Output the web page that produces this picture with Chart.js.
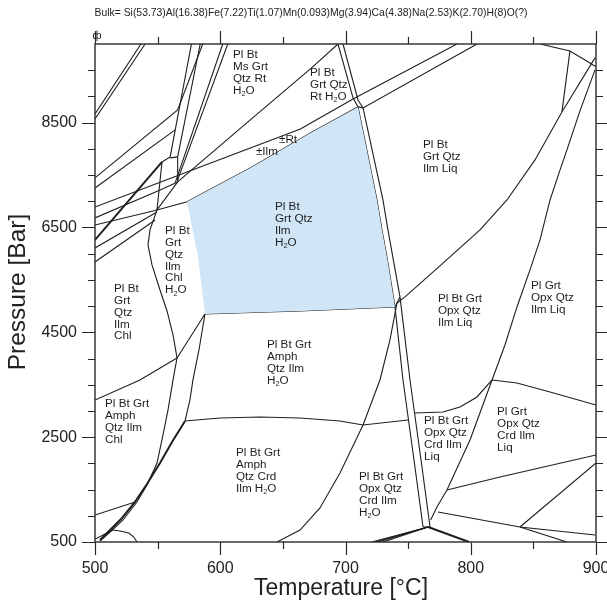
<!DOCTYPE html>
<html>
<head>
<meta charset="utf-8">
<script src="https://cdn.jsdelivr.net/npm/chart.js@4/dist/chart.umd.min.js"></script>
<style>
  html, body { margin: 0; padding: 0; background: #ffffff; }
  canvas { display: block; }
</style>
</head>
<body>
<canvas id="pseudosection" width="607" height="606"></canvas>
<script>
// Axis ticks
const xTickValues = [500, 600, 700, 800, 900];
const yTickValues = [500, 2500, 4500, 6500, 8500];
const xMinorTicks = [500, 550, 600, 650, 700, 750, 800, 850, 900];
const yMinorTicks = [500, 1000, 1500, 2000, 2500, 3000, 3500, 4000, 4500, 5000, 5500, 6000, 6500, 7000, 7500, 8000, 8500, 9000, 9500];

const bulkComposition = 'Bulk= Si(53.73)Al(16.38)Fe(7.22)Ti(1.07)Mn(0.093)Mg(3.94)Ca(4.38)Na(2.53)K(2.70)H(8)O(?)';

// Shaded field: Pl Bt Grt Qtz Ilm H2O  ([T °C, P bar])
const fieldPlBtGrtQtzIlmH2O = [[573.5,6990],[578,6453],[582,5976],[585,5400],[587.8,4850],[663.7,4907],[739.5,4984],[733.5,5880],[729.1,6453],[725.1,7025],[717,7979],[710,8800],[672,8304],[624,7636],[573.5,6990]];

// Phase boundaries ([T °C, P bar])
const rtOut        = [[566,7369],[624,8552],[672,9525],[694,10000]];
const ilmRtUpper   = [[500,6890],[584,7655],[664,8380],[706,8950],[789,10000]];
const ilmRtLower   = [[549.5,6835],[573.5,6990],[624,7636],[672,8304],[710,8800],[714,8781],[805,10000]];
const dualLeft     = [[694,10000],[706,8972],[710,8800],[717,7979],[725.1,7025],[729.1,6453],[733.5,5880],[739.5,4984],[745.9,3591],[754.7,2065],[761.9,786]];
const dualRight    = [[698,10000],[710,8933],[714,8781],[729.9,7025],[733.9,6453],[743.5,5175],[751.5,3591],[760.3,2065],[767.5,786]];
const dualJoin     = [[761.9,786],[767.5,786]];
const msOutA       = [[500,7445],[566,8742],[586,10000]];
const msOutB       = [[500,7254],[564,8361]];
const steepN1      = [[577,10000],[560,7846],[553.5,7750]];
const steepN2      = [[584,10000],[566,7846],[566,7369]];
const steepN4      = [[602,10000],[564,7350]];
const steepN5      = [[606,10000],[566,7407]];
const shortLink    = [[560,7827],[566,7846]];
const thickLeft    = [[500,6262],[553.5,7750]];
const hubVertical  = [[553.5,7750],[549.5,6835]];
const hubLink      = [[549.5,6835],[566,7369]];
const leftFan1     = [[500,6682],[552,7216],[566,7369]];
const leftFan2     = [[500,6548],[549.5,6835]];
const leftFan3     = [[500,6110],[549.5,6797]];
const leftFan4     = [[500,5842],[548,6644]];
const chlOutUpper  = [[549.5,6835],[543.9,6453],[542.3,6167],[545.5,5785],[551.9,5308],[557.5,4907],[562.3,4450],[565.5,4011]];
const chlOutLower  = [[565.5,4011],[562.3,3591],[558.3,3019],[554.3,2542],[549.5,2007],[541.5,1588],[533.5,1263],[522.4,920],[512,691],[504,519]];
const amphUpper    = [[587.8,4850],[583,4163],[578.2,3591],[575.8,3209],[571.9,2809]];
const amphLower    = [[571.9,2809],[561.5,2408],[551.9,2007],[541.5,1607],[531.9,1263],[521.6,958],[512,729],[504,538]];
const chlAmph      = [[500,3209],[535.9,3591],[565.5,4011]];
const cornerSW     = [[587.8,4850],[565.5,4011]];
const lowLeft      = [[500,1015],[532,1263]];
const lowLeftShort = [[500,557],[514.4,729]];
const lowLeftArc   = [[514.4,729],[520,710],[527,672],[531,595],[533.5,500]];
const crdIn        = [[571.9,2809],[599.8,2866],[631.7,2885],[663.7,2866],[695.6,2809],[714,2732],[749.9,2828]];
const crdInHigh    = [[755.5,2961],[777.8,2980],[791.4,3076],[805,3267],[817,3591]];
const crdRight     = [[817,3591],[836.9,3534],[863.3,3362],[900,3114]];
const btOut        = [[781,1492],[799.4,2446],[817,3591],[827.3,4259],[836.9,4984],[847.3,5690],[855.3,6262],[863.3,7025],[871.3,7598],[876.8,7979],[887.2,8724],[899.2,9506]];
const btOutLow     = [[781,1492],[773,1168],[768,920]];
const meltIn       = [[747.5,5175],[775.4,5766],[807.4,6453],[828.9,7025],[851.3,7789],[872.8,8704],[899.2,9735]];
const opxIn        = [[645.3,500],[663.7,729],[679.6,1149],[695.6,1816],[714,2732],[727.5,3591],[735.5,4354],[741.1,5060]];
const blueBottom   = [[587.8,4850],[663.7,4907],[739.5,4984]];
const boxBR        = [[739.5,4984],[743.5,5175]];
const boxBR2       = [[741.1,5060],[747.5,5175]];
const lowRight1    = [[773.8,1072],[839.3,786],[899.2,634]];
const lowRight2    = [[781,1492],[823.4,1740],[900,2160]];
const lowRight3    = [[839.3,786],[900,2007]];
const lowRight4    = [[839.3,786],[876.8,500]];
const baseFan1     = [[766,786],[721,500]];
const baseFan2     = [[766,786],[723.6,500]];
const baseFan3     = [[766,786],[726.2,500]];
const baseFan4     = [[766,786],[730,500]];
const baseRight    = [[766,786],[798.6,500]];
const topRightArc  = [[855.3,10000],[879.2,9868],[895.2,9639],[900,9563]];
const topRightStep = [[879.2,9868],[872.8,8704]];
const topLeft1     = [[500,8666],[536.7,10000]];
const topLeft2     = [[500,8571],[540,10000]];

const thinCurves = [rtOut, ilmRtUpper, ilmRtLower, dualLeft, dualRight, dualJoin, msOutA, msOutB,
  steepN1, steepN2, steepN4, steepN5, shortLink, hubVertical, hubLink, leftFan1, leftFan2, leftFan3, leftFan4,
  chlOutUpper, chlOutLower, amphUpper, chlAmph, cornerSW, lowLeft, lowLeftShort, lowLeftArc,
  crdIn, crdInHigh, crdRight, btOut, btOutLow, meltIn, opxIn, blueBottom, boxBR, boxBR2,
  lowRight1, lowRight2, lowRight3, lowRight4, baseFan1, baseFan2, baseFan3, baseFan4,
  topRightArc, topRightStep, topLeft1, topLeft2];
const thickCurves = [thickLeft, amphLower, baseRight];

// Field assemblage labels: anchor at [T, P] of the first line
const fieldLabels = [
  { at: [610.2, 9792], lines: ['Pl Bt', 'Ms Grt', 'Qtz Rt', 'H₂O'] },
  { at: [671.7, 9449], lines: ['Pl Bt', 'Grt Qtz', 'Rt H₂O'] },
  { at: [761.9, 8075], lines: ['Pl Bt', 'Grt Qtz', 'Ilm Liq'] },
  { at: [643.7, 6892], lines: ['Pl Bt', 'Grt Qtz', 'Ilm', 'H₂O'] },
  { at: [555.9, 6434], lines: ['Pl Bt', 'Grt', 'Qtz', 'Ilm', 'Chl', 'H₂O'] },
  { at: [515.2, 5327], lines: ['Pl Bt', 'Grt', 'Qtz', 'Ilm', 'Chl'] },
  { at: [637.3, 4259], lines: ['Pl Bt Grt', 'Amph', 'Qtz Ilm', 'H₂O'] },
  { at: [508.0, 3133], lines: ['Pl Bt Grt', 'Amph', 'Qtz Ilm', 'Chl'] },
  { at: [612.6, 2198], lines: ['Pl Bt Grt', 'Amph', 'Qtz Crd', 'Ilm H₂O'] },
  { at: [710.8, 1740], lines: ['Pl Bt Grt', 'Opx Qtz', 'Crd Ilm', 'H₂O'] },
  { at: [762.7, 2809], lines: ['Pl Bt Grt', 'Opx Qtz', 'Crd Ilm', 'Liq'] },
  { at: [821.0, 2980], lines: ['Pl Grt', 'Opx Qtz', 'Crd Ilm', 'Liq'] },
  { at: [773.8, 5136], lines: ['Pl Bt Grt', 'Opx Qtz', 'Ilm Liq'] },
  { at: [848.1, 5384], lines: ['Pl Grt', 'Opx Qtz', 'Ilm Liq'] },
  { at: [646.9, 8170], lines: ['±Rt'] },
  { at: [628.5, 7941], lines: ['±Ilm'] }
];

const FONT = "'Liberation Sans', Arial, sans-serif";
const INK = '#1e1e1e';

const toPoints = arr => arr.map(([x, y]) => ({ x, y }));
const curveDataset = (arr, width) => ({
  data: toPoints(arr), showLine: true, pointRadius: 0, pointHoverRadius: 0,
  borderColor: INK, borderWidth: width, fill: false, tension: 0
});

const datasets = [
  {
    data: toPoints(fieldPlBtGrtQtzIlmH2O), showLine: true, pointRadius: 0,
    borderWidth: 0, borderColor: 'rgba(0,0,0,0)', backgroundColor: '#d0e5f6', fill: 'shape', tension: 0
  },
  ...thinCurves.map(c => curveDataset(c, 1.1)),
  ...thickCurves.map(c => curveDataset(c, 2.0))
];

// Draws "H₂O"-style text with a true lowered subscript
function drawRich(ctx, text, x, y, size) {
  const parts = text.split('₂');
  let cx = x;
  parts.forEach((part, i) => {
    ctx.font = size + 'px ' + FONT;
    ctx.fillText(part, cx, y);
    cx += ctx.measureText(part).width;
    if (i < parts.length - 1) {
      ctx.font = (size * 0.62).toFixed(1) + 'px ' + FONT;
      ctx.fillText('2', cx, y + 4);
      cx += ctx.measureText('2').width;
    }
  });
}

const decorations = {
  id: 'decorations',
  beforeDraw(chart) {
    const ctx = chart.ctx;
    ctx.save();
    ctx.fillStyle = '#ffffff';
    ctx.fillRect(0, 0, chart.width, chart.height);
    ctx.restore();
  },
  afterDraw(chart) {
    const ctx = chart.ctx;
    const a = chart.chartArea;
    const xs = chart.scales.x, ys = chart.scales.y;
    ctx.save();

    // field labels
    ctx.fillStyle = INK;
    ctx.textAlign = 'left';
    ctx.textBaseline = 'middle';
    fieldLabels.forEach(lab => {
      const px = xs.getPixelForValue(lab.at[0]);
      const py = ys.getPixelForValue(lab.at[1]);
      lab.lines.forEach((line, i) => drawRich(ctx, line, px, py + i * 11.8, 11.7));
    });

    // frame
    ctx.strokeStyle = '#2a2a2a';
    ctx.lineWidth = 1.4;
    ctx.strokeRect(a.left, a.top, a.right - a.left, a.bottom - a.top);

    // tick marks on all four sides
    ctx.lineWidth = 1.2;
    ctx.beginPath();
    xMinorTicks.forEach(v => {
      const len = xTickValues.includes(v) ? 13 : 7;
      const px = Math.round(xs.getPixelForValue(v)) + 0.5;
      ctx.moveTo(px, a.bottom); ctx.lineTo(px, a.bottom + len);
      ctx.moveTo(px, a.top); ctx.lineTo(px, a.top - len);
    });
    yMinorTicks.forEach(v => {
      const len = yTickValues.includes(v) ? 13 : 7;
      const py = Math.round(ys.getPixelForValue(v)) + 0.5;
      ctx.moveTo(a.left - len, py); ctx.lineTo(a.left, py);
      ctx.moveTo(a.right, py); ctx.lineTo(a.right + len, py);
    });
    ctx.stroke();

    // composition header
    ctx.fillStyle = '#222';
    ctx.textAlign = 'center';
    ctx.textBaseline = 'middle';
    ctx.font = '10.4px ' + FONT;
    ctx.fillText(bulkComposition, 311, 13);

    // small marker at the top-left corner
    ctx.font = '11px ' + FONT;
    ctx.fillText('ф', a.left + 2, a.top - 8);

    // axis titles
    ctx.font = '23px ' + FONT;
    ctx.fillText('Temperature [°C]', 341, 589);
    ctx.font = '24.5px ' + FONT;
    ctx.translate(18, 292);
    ctx.rotate(-Math.PI / 2);
    ctx.fillText('Pressure [Bar]', 0, 0);
    ctx.restore();
  }
};

new Chart(document.getElementById('pseudosection'), {
  type: 'scatter',
  data: { datasets },
  options: {
    responsive: false,
    animation: false,
    devicePixelRatio: 1,
    layout: { padding: { top: 44, right: 11, left: 0, bottom: 0 } },
    plugins: { legend: { display: false }, tooltip: { enabled: false } },
    scales: {
      x: {
        type: 'linear', min: 500, max: 900,
        afterBuildTicks: s => { s.ticks = xTickValues.map(v => ({ value: v })); },
        afterFit: s => { s.height = 64; s.paddingLeft = 0; s.paddingRight = 0; },
        grid: { display: false, drawTicks: false },
        border: { display: false },
        ticks: { color: '#222', font: { family: FONT, size: 16 }, padding: 17, maxRotation: 0, autoSkip: false,
                 callback: v => String(v) }
      },
      y: {
        type: 'linear', min: 500, max: 10000,
        afterBuildTicks: s => { s.ticks = yTickValues.map(v => ({ value: v })); },
        afterFit: s => { s.width = 95; s.paddingTop = 0; s.paddingBottom = 0; },
        grid: { display: false, drawTicks: false },
        border: { display: false },
        ticks: { color: '#222', font: { family: FONT, size: 16 }, padding: 18, autoSkip: false,
                 callback: v => String(v) }
      }
    }
  },
  plugins: [decorations]
});
</script>
</body>
</html>
